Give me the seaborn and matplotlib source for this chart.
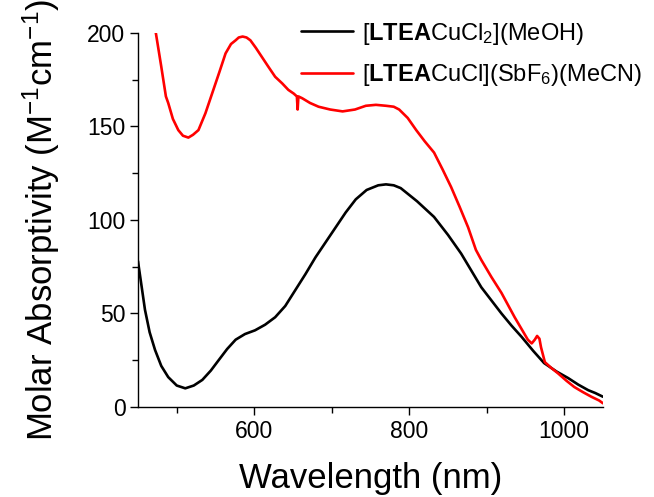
import matplotlib
matplotlib.use('Agg')
import matplotlib.pyplot as plt
from matplotlib.ticker import MultipleLocator
import pandas as pd
import seaborn as sns

sns.set_style('ticks')
plt.rcParams['font.family'] = ['Liberation Sans', 'DejaVu Sans']
plt.rcParams['mathtext.fontset'] = 'custom'
plt.rcParams['mathtext.rm'] = 'Liberation Sans'
plt.rcParams['mathtext.bf'] = 'Liberation Sans:bold'
plt.rcParams['mathtext.it'] = 'Liberation Sans:italic'
for k in ['text.color', 'axes.labelcolor', 'xtick.color', 'ytick.color', 'axes.edgecolor']:
    plt.rcParams[k] = 'black'

# [LTEA CuCl2](MeOH)
wl_cl2 = [450, 451, 459, 465, 472, 480, 489, 500, 511, 522, 533, 544, 554, 565, 576, 588,
          601, 614, 627, 640, 653, 666, 679, 692, 705, 718, 731, 745, 760, 770, 780,
          789, 810, 832, 850, 867, 880, 893, 906, 919, 932, 945, 960, 974, 990, 1005,
          1018, 1031, 1040, 1050]
abs_cl2 = [78, 75, 52, 40, 30.5, 22, 16, 11.5, 10, 11.5, 14.5, 19.5, 25, 31, 36, 39,
           41, 44, 48, 54, 62.5, 71, 80, 88, 96, 104, 111, 116, 118.5, 119, 118.5,
           117, 110, 101.6, 92, 82, 73, 64, 57, 50, 43.5, 37.5, 30, 23.5, 19, 15.5,
           12, 9, 7.5, 5.5]

# [LTEA CuCl](SbF6)(MeCN)
wl_sbf6 = [473, 480, 486, 489, 495, 502, 508, 515, 521, 528, 537, 546, 555, 563, 570, 576,
           580, 585, 590, 595, 602, 610, 618, 627, 636, 644, 651, 655, 656, 657, 662,
           672, 683, 698, 714, 730, 744, 757, 770, 780, 787, 798, 809, 820, 832, 843,
           854, 865, 876, 886, 893, 906, 919, 936, 953, 958, 962, 965, 968, 970, 975,
           983, 992, 1003, 1013, 1024, 1035, 1045, 1050]
abs_sbf6 = [200, 182, 166, 162.5, 154, 148, 145, 144, 145.5, 148, 157, 168, 179, 189, 194, 196,
            197.5, 198, 197.5, 196, 192, 187, 182, 176.5, 173, 169.5, 167.5, 166, 159, 166, 165,
            162.5, 160.5, 159, 158, 159, 161, 161.5, 161, 160.5, 159, 154.5, 148, 142, 136, 127,
            117.6, 107, 96, 84, 78.6, 69.5, 61, 48, 36, 34, 36, 38, 36.5, 32, 24,
            21, 18, 14, 10.7, 8, 5.5, 3.5, 2]

df = pd.concat([
    pd.DataFrame({'wl': wl_cl2, 'abs': abs_cl2,
                  'sample': r'[$\mathbf{LTEA}$CuCl$_2$](MeOH)'}),
    pd.DataFrame({'wl': wl_sbf6, 'abs': abs_sbf6,
                  'sample': r'[$\mathbf{LTEA}$CuCl](SbF$_6$)(MeCN)'}),
])

fig = plt.figure(figsize=(6.54, 4.97), dpi=100)
ax = fig.add_axes([0.211, 0.181, 0.711, 0.753])
sns.lineplot(data=df, x='wl', y='abs', hue='sample', palette=['black', '#ff0000'],
             linewidth=1.9, sort=False, estimator=None, ax=ax)

ax.set_xlim(450, 1050)
ax.set_ylim(0, 200)
ax.xaxis.set_major_locator(MultipleLocator(200))
ax.xaxis.set_minor_locator(MultipleLocator(100))
ax.yaxis.set_major_locator(MultipleLocator(50))
ax.yaxis.set_minor_locator(MultipleLocator(25))
ax.tick_params(which='major', direction='out', length=6, width=1, labelsize=16.5, pad=3)
ax.tick_params(which='minor', direction='out', length=4, width=1)
for s in ['left', 'bottom']:
    ax.spines[s].set_linewidth(1)
sns.despine(ax=ax)

ax.set_xlabel('Wavelength (nm)', fontsize=25, labelpad=14)
ax.set_ylabel(r'Molar Absorptivity (M$^{-1}$cm$^{-1}$)', fontsize=25, labelpad=18)

leg = ax.legend(loc='upper left', bbox_to_anchor=(0.33, 1.058), frameon=False,
                fontsize=17, handlelength=2.2, handletextpad=0.4, labelspacing=0.65,
                borderaxespad=0)
for line in leg.get_lines():
    line.set_linewidth(1.9)

fig.savefig('out.png', dpi=100)
